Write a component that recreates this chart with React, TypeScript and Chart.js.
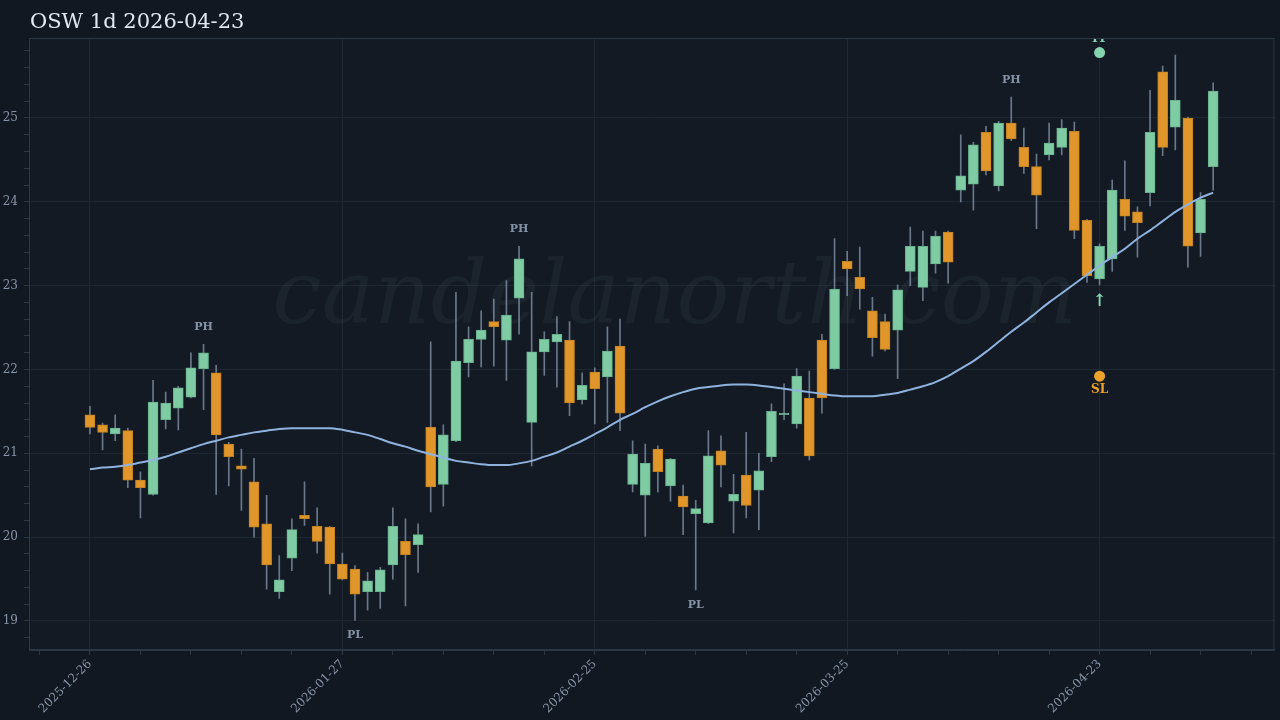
import React, { useEffect, useRef } from "react";
import { Chart, registerables } from "chart.js";

Chart.register(...registerables);

// ---------- data ----------
const title = "OSW 1d 2026-04-23";
const watermark = "candelanorth.com";

const xTickIndex = [0, 20, 40, 60, 80];
const xTickLabels = ["2025-12-26", "2026-01-27", "2026-02-25", "2026-03-25", "2026-04-23"];
const xMinorTicks = [-4, 0, 4, 8, 12, 16, 20, 24, 28, 32, 36, 40, 44, 48, 52, 56, 60, 64, 68, 72, 76, 80, 84, 88, 92];

const yMajorTicks = [19, 20, 21, 22, 23, 24, 25];
const yMinorTicks = [
  18.8, 19.0, 19.2, 19.4, 19.6, 19.8, 20.0, 20.2, 20.4, 20.6, 20.8, 21.0, 21.2, 21.4, 21.6, 21.8,
  22.0, 22.2, 22.4, 22.6, 22.8, 23.0, 23.2, 23.4, 23.6, 23.8, 24.0, 24.2, 24.4, 24.6, 24.8, 25.0,
  25.2, 25.4, 25.6, 25.8,
];

const opens = [
  21.46, 21.34, 21.23, 21.27, 20.68, 20.51, 21.40, 21.54, 21.67, 22.01,
  21.96, 21.11, 20.85, 20.66, 20.16, 19.35, 19.75, 20.26, 20.13, 20.12,
  19.68, 19.62, 19.35, 19.35, 19.67, 19.95, 19.91, 21.31, 20.63, 21.15,
  22.08, 22.36, 22.57, 22.35, 22.85, 21.37, 22.21, 22.33, 22.35, 21.64,
  21.97, 21.91, 22.28, 20.63, 20.50, 21.05, 20.61, 20.49, 20.28, 20.17,
  21.03, 20.43, 20.74, 20.56, 20.96, 21.46, 21.35, 21.66, 22.35, 22.01,
  23.29, 23.10, 22.70, 22.57, 22.47, 23.17, 22.98, 23.26, 23.64, 24.14,
  24.21, 24.83, 24.19, 24.94, 24.65, 24.42, 24.56, 24.65, 24.84, 23.78,
  23.08, 23.32, 24.03, 23.88, 24.11, 25.55, 24.89, 25.00, 23.63, 24.42,
];
const highs = [
  21.56, 21.36, 21.46, 21.30, 20.78, 21.87, 21.73, 21.80, 22.20, 22.30,
  22.05, 21.13, 21.05, 20.94, 20.50, 19.78, 20.22, 20.66, 20.35, 20.13,
  19.81, 19.66, 19.58, 19.64, 20.35, 20.22, 20.16, 22.33, 21.34, 22.92,
  22.51, 22.70, 22.84, 23.06, 23.47, 22.92, 22.45, 22.63, 22.57, 21.96,
  22.02, 22.51, 22.60, 21.15, 21.11, 21.09, 20.94, 20.62, 20.44, 21.27,
  21.21, 20.75, 21.25, 21.00, 21.59, 21.83, 22.01, 21.98, 22.42, 23.56,
  23.41, 23.46, 22.86, 22.66, 23.01, 23.70, 23.65, 23.65, 23.65, 24.80,
  24.71, 24.90, 24.96, 25.25, 24.88, 24.57, 24.94, 24.98, 24.95, 23.79,
  23.50, 24.26, 24.49, 23.94, 25.33, 25.62, 25.75, 25.01, 24.11, 25.42,
];
const lows = [
  21.23, 21.04, 21.15, 20.59, 20.23, 20.50, 21.29, 21.28, 21.66, 21.52,
  20.51, 20.61, 20.32, 20.00, 19.38, 19.27, 19.60, 20.14, 19.81, 19.32,
  19.49, 19.01, 19.13, 19.15, 19.50, 19.18, 19.58, 20.30, 20.37, 21.14,
  21.91, 22.03, 22.04, 21.87, 22.42, 20.85, 21.93, 21.79, 21.45, 21.59,
  21.35, 21.37, 21.27, 20.54, 20.01, 20.54, 20.43, 20.03, 19.37, 20.16,
  20.60, 20.05, 20.23, 20.09, 20.90, 21.40, 21.30, 20.92, 21.48, 22.00,
  22.88, 22.72, 22.16, 22.22, 21.89, 23.00, 22.82, 23.15, 23.03, 24.00,
  23.90, 24.32, 24.13, 24.73, 24.34, 23.68, 24.50, 24.56, 23.56, 23.04,
  23.01, 23.17, 23.66, 23.34, 23.95, 24.55, 24.62, 23.22, 23.35, 24.14,
];
const closes = [
  21.31, 21.25, 21.30, 20.68, 20.59, 21.61, 21.60, 21.78, 22.02, 22.20,
  21.22, 20.96, 20.81, 20.12, 19.67, 19.49, 20.09, 20.22, 19.95, 19.68,
  19.50, 19.32, 19.48, 19.61, 20.13, 19.79, 20.03, 20.60, 21.22, 22.10,
  22.36, 22.47, 22.51, 22.65, 23.32, 22.21, 22.36, 22.42, 21.60, 21.81,
  21.77, 22.22, 21.48, 20.99, 20.88, 20.78, 20.93, 20.36, 20.34, 20.97,
  20.86, 20.51, 20.38, 20.79, 21.50, 21.48, 21.92, 20.97, 21.66, 22.96,
  23.20, 22.96, 22.38, 22.24, 22.95, 23.47, 23.47, 23.59, 23.28, 24.31,
  24.68, 24.37, 24.94, 24.75, 24.42, 24.08, 24.70, 24.88, 23.66, 23.12,
  23.47, 24.14, 23.83, 23.75, 24.83, 24.65, 25.21, 23.47, 24.03, 25.32,
];
const movingAverage = [
  20.81, 20.83, 20.84, 20.86, 20.89, 20.92, 20.96, 21.01, 21.06, 21.11,
  21.15, 21.19, 21.22, 21.25, 21.27, 21.29, 21.30, 21.30, 21.30, 21.30,
  21.28, 21.25, 21.22, 21.17, 21.12, 21.08, 21.03, 20.99, 20.95, 20.91,
  20.89, 20.87, 20.86, 20.86, 20.88, 20.91, 20.96, 21.01, 21.08, 21.15,
  21.23, 21.31, 21.40, 21.47, 21.55, 21.62, 21.68, 21.73, 21.77, 21.79,
  21.81, 21.82, 21.82, 21.81, 21.79, 21.77, 21.75, 21.73, 21.71, 21.69,
  21.68, 21.68, 21.68, 21.70, 21.72, 21.76, 21.80, 21.85, 21.92, 22.01,
  22.10, 22.21, 22.33, 22.45, 22.56, 22.68, 22.80, 22.91, 23.02, 23.13,
  23.24, 23.34, 23.44, 23.56, 23.66, 23.77, 23.88, 23.97, 24.05, 24.11,
];

const pivotHighIndex = [9, 34, 73];
const pivotLowIndex = [21, 48];
const signalIndex = 80;
const takeProfit = 25.78;
const stopLoss = 21.92;

// ---------- styles ----------
const PAGE_BG = "#111821";
const PLOT_BG = "#131a24";
const GRID = "#1d2833";
const BORDER = "#2a3744";
const TICK_TEXT = "#8794a7";
const UP = "#7fcba4";
const UP_BORDER = "#68b38d";
const DOWN = "#e0962b";
const DOWN_BORDER = "#c4821f";
const WICK = "rgba(135,152,172,0.75)";
const MA_COLOR = "#8fb3df";
const TP_COLOR = "#86d4ad";
const SL_COLOR = "#eea128";
const SERIF = "'DejaVu Serif', serif";

const isInt = (v: number) => Math.abs(v - Math.round(v)) < 1e-6;

const overlayPlugin = {
  id: "overlay",
  beforeDraw(chart: any) {
    const { ctx, chartArea } = chart;
    ctx.save();
    ctx.fillStyle = PAGE_BG;
    ctx.fillRect(0, 0, chart.width, chart.height);
    ctx.fillStyle = PLOT_BG;
    ctx.fillRect(chartArea.left, chartArea.top, chartArea.right - chartArea.left, chartArea.bottom - chartArea.top);
    ctx.restore();
  },
  beforeDatasetsDraw(chart: any) {
    const { ctx, chartArea } = chart;
    ctx.save();
    ctx.beginPath();
    ctx.rect(chartArea.left, chartArea.top, chartArea.right - chartArea.left, chartArea.bottom - chartArea.top);
    ctx.clip();
    ctx.font = `italic 88px ${SERIF}`;
    ctx.fillStyle = "rgba(150,168,186,0.065)";
    ctx.textAlign = "center";
    ctx.textBaseline = "alphabetic";
    const cx = chartArea.left + (chartArea.right - chartArea.left) * 0.5185;
    const cy = chartArea.top + (chartArea.bottom - chartArea.top) * 0.4657;
    ctx.fillText(watermark, cx, cy);
    ctx.restore();
  },
  afterDatasetsDraw(chart: any) {
    const { ctx, chartArea } = chart;
    const xs = chart.scales.x;
    const ys = chart.scales.y;
    ctx.save();
    ctx.beginPath();
    ctx.rect(chartArea.left, chartArea.top, chartArea.right - chartArea.left, chartArea.bottom - chartArea.top);
    ctx.clip();
    ctx.textAlign = "center";
    ctx.textBaseline = "middle";
    ctx.font = `bold 11px ${SERIF}`;
    ctx.fillStyle = "#8593a6";
    pivotHighIndex.forEach((i) => {
      ctx.fillText("PH", xs.getPixelForValue(i), ys.getPixelForValue(highs[i]) - 17);
    });
    pivotLowIndex.forEach((i) => {
      ctx.fillText("PL", xs.getPixelForValue(i), ys.getPixelForValue(lows[i]) + 15);
    });
    const sx = xs.getPixelForValue(signalIndex);
    ctx.font = `bold 12px ${SERIF}`;
    ctx.fillStyle = TP_COLOR;
    ctx.fillText("TP", sx, ys.getPixelForValue(takeProfit) - 14);
    ctx.fillStyle = SL_COLOR;
    ctx.fillText("SL", sx, ys.getPixelForValue(stopLoss) + 14);
    ctx.font = `bold 17px ${SERIF}`;
    ctx.fillStyle = TP_COLOR;
    ctx.fillText("↑", sx, ys.getPixelForValue(lows[signalIndex]) + 17);
    ctx.restore();
  },
  afterDraw(chart: any) {
    const { ctx, chartArea } = chart;
    ctx.save();
    ctx.strokeStyle = BORDER;
    ctx.lineWidth = 1;
    ctx.strokeRect(chartArea.left + 0.5, chartArea.top + 0.5, chartArea.right - chartArea.left - 1, chartArea.bottom - chartArea.top - 1);
    ctx.font = `21px ${SERIF}`;
    ctx.fillStyle = "#e2e8ef";
    ctx.textAlign = "left";
    ctx.textBaseline = "alphabetic";
    ctx.fillText(title, 30, 28);
    ctx.restore();
  },
};

export default function App() {
  const canvasRef = useRef<HTMLCanvasElement | null>(null);

  useEffect(() => {
    if (!canvasRef.current) return;
    const idx = opens.map((_, i) => i);
    const upFlags = idx.map((i) => closes[i] >= opens[i]);

    const chart = new Chart(canvasRef.current, {
      type: "bar",
      data: {
        datasets: [
          {
            type: "line",
            label: "TP",
            data: [{ x: signalIndex, y: takeProfit }],
            showLine: false,
            pointRadius: 5.5,
            pointBackgroundColor: TP_COLOR,
            pointBorderWidth: 0,
            order: 1,
          } as any,
          {
            type: "line",
            label: "SL",
            data: [{ x: signalIndex, y: stopLoss }],
            showLine: false,
            pointRadius: 5.5,
            pointBackgroundColor: SL_COLOR,
            pointBorderWidth: 0,
            order: 1,
          } as any,
          {
            type: "line",
            label: "MA",
            data: idx.map((i) => ({ x: i, y: movingAverage[i] })),
            borderColor: MA_COLOR,
            borderWidth: 2,
            pointRadius: 0,
            cubicInterpolationMode: "monotone",
            order: 2,
          } as any,
          {
            type: "bar",
            label: "Body",
            data: idx.map((i) => ({ x: i, y: [opens[i], closes[i]] })),
            backgroundColor: idx.map((i) => (upFlags[i] ? UP : DOWN)),
            borderColor: idx.map((i) => (upFlags[i] ? UP_BORDER : DOWN_BORDER)),
            borderWidth: 1,
            borderSkipped: false,
            barThickness: 10,
            grouped: false,
            order: 3,
          } as any,
          {
            type: "bar",
            label: "Wick",
            data: idx.map((i) => ({ x: i, y: [lows[i], highs[i]] })),
            backgroundColor: WICK,
            borderWidth: 0,
            barThickness: 1,
            grouped: false,
            order: 4,
          } as any,
        ],
      },
      options: {
        animation: false,
        responsive: false,
        events: [],
        layout: { padding: { top: 38, right: 4, left: 0, bottom: 0 } },
        plugins: {
          legend: { display: false },
          tooltip: { enabled: false },
          title: { display: false },
        },
        scales: {
          x: {
            type: "linear",
            min: -4.83,
            max: 93.86,
            offset: false,
            afterBuildTicks: (scale: any) => {
              scale.ticks = xMinorTicks.map((v) => ({ value: v }));
            },
            afterFit: (scale: any) => {
              scale.height = 70;
            },
            ticks: {
              autoSkip: false,
              maxRotation: 45,
              minRotation: 45,
              padding: 2,
              color: TICK_TEXT,
              font: { family: SERIF, size: 12 },
              callback: (value: any) => {
                const k = xTickIndex.indexOf(Number(value));
                return k >= 0 ? xTickLabels[k] : "";
              },
            },
            grid: {
              offset: false,
              color: (c: any) => (c.tick && xTickIndex.indexOf(c.tick.value) >= 0 ? GRID : "rgba(0,0,0,0)"),
              tickColor: BORDER,
              tickLength: 5,
              lineWidth: 1,
            },
            border: { color: BORDER },
          },
          y: {
            type: "linear",
            min: 18.654,
            max: 25.954,
            afterBuildTicks: (scale: any) => {
              scale.ticks = yMinorTicks.map((v) => ({ value: v }));
            },
            afterFit: (scale: any) => {
              scale.width = 29;
            },
            ticks: {
              autoSkip: false,
              padding: 6,
              color: TICK_TEXT,
              font: { family: SERIF, size: 12 },
              callback: (value: any) => {
                const v = Number(value);
                return isInt(v) && yMajorTicks.indexOf(Math.round(v)) >= 0 ? String(Math.round(v)) : "";
              },
            },
            grid: {
              color: (c: any) => (c.tick && isInt(c.tick.value) ? GRID : "rgba(0,0,0,0)"),
              tickColor: BORDER,
              tickLength: 5,
              lineWidth: 1,
            },
            border: { color: BORDER },
          },
        },
      } as any,
      plugins: [overlayPlugin],
    });

    return () => chart.destroy();
  }, []);

  return (
    <div style={{ position: "fixed", left: 0, top: 0, width: 1280, height: 720, background: PAGE_BG }}>
      <canvas ref={canvasRef} width={1280} height={720} style={{ display: "block", width: 1280, height: 720 }} />
    </div>
  );
}
